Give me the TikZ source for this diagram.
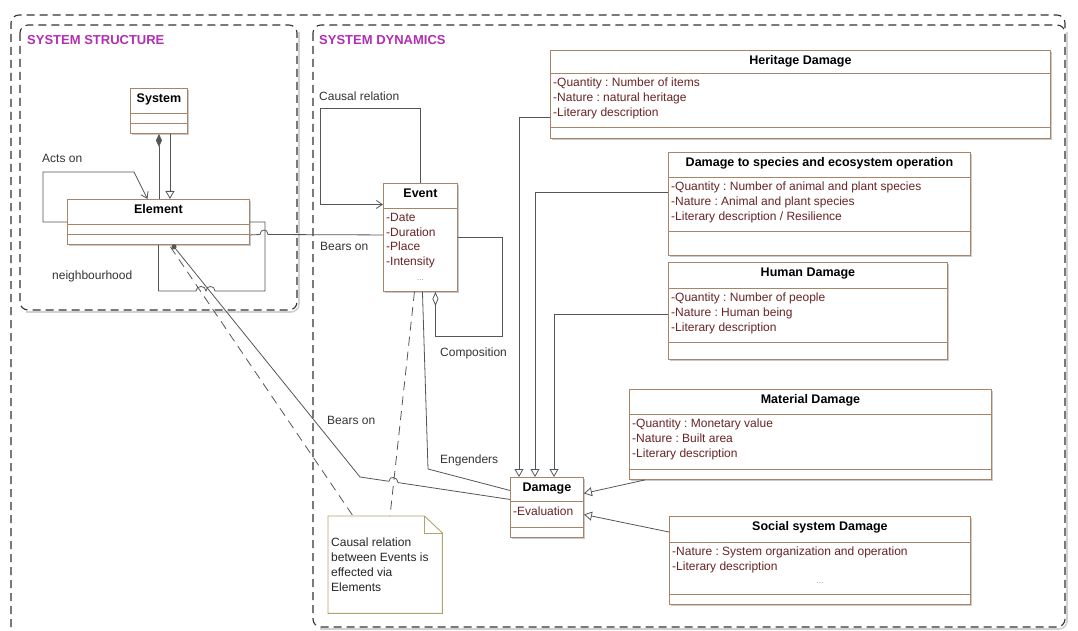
\documentclass[tikz,border=0pt]{standalone}
\usepackage{fontspec}
\setmainfont{Liberation Sans}
\usetikzlibrary{arrows.meta,calc,shadows}
\frenchspacing

\definecolor{clsbrown}{RGB}{168,132,104}
\definecolor{attrred}{RGB}{105,35,35}
\definecolor{notekhaki}{RGB}{176,164,112}
\definecolor{pkgmagenta}{RGB}{178,46,178}
\definecolor{linegray}{RGB}{85,85,85}

\tikzset{
 clsbox/.style={draw=clsbrown,fill=white,line width=0.9pt,anchor=north west,inner sep=0pt,
   drop shadow={shadow xshift=2pt,shadow yshift=-2pt,fill=black!35,opacity=0.6}},
 clsline/.style={draw=clsbrown,line width=0.9pt},
 clstitle/.style={anchor=base,inner sep=0pt,font=\fontsize{12.5}{15}\selectfont\bfseries},
 clsattr/.style={anchor=north west,inner sep=0pt,align=left,text=attrred,
   font=\fontsize{12}{14.6}\selectfont,execute at begin node={\rule{0pt}{9.5pt}}}
}

% class box: name, north west corner, width, height, header height, last part height, title, attributes
\newcommand{\umlclass}[8]{%
 \node[clsbox,minimum width=#3pt,minimum height=#4pt] (#1) at (#2) {};
 \node[clstitle] (#1-t) at ($(#1.north)+(0,14.5)$) {#7};
 \draw[clsline] ($(#1.north west)+(0,#5)$) -- ($(#1.north east)+(0,#5)$);
 \draw[clsline] ($(#1.south west)+(0,-#6)$) -- ($(#1.south east)+(0,-#6)$);
 \node[clsattr] (#1-a) at ($(#1.north west)+(3,#5+5)$) {#8};
}

\begin{document}
\begin{tikzpicture}[x=1pt,y=-1pt,
 assoc/.style={draw=linegray,line width=0.8pt},
 gen/.style={assoc,-{Triangle[open,length=8pt,width=9pt,fill=white]}},
 barb/.style={assoc,-{Straight Barb[length=6pt,width=8pt]}},
 notelink/.style={draw=linegray,line width=0.8pt,dash pattern=on 9pt off 6pt},
 frame/.style={draw=black!80,line width=1.1pt,dash pattern=on 8pt off 5pt,rounded corners=8pt},
 frameshadow/.style={draw=black!18,line width=1.6pt,rounded corners=8pt},
 pkgtitle/.style={anchor=base west,inner sep=0pt,text=pkgmagenta,font=\fontsize{13}{15}\selectfont\bfseries},
 lab/.style={anchor=base west,inner sep=0pt,text=black!80,font=\fontsize{12}{14}\selectfont},
 dots/.style={inner sep=0pt,text=black!45,font=\fontsize{8}{9}\selectfont},
 notebox/.style={anchor=north west,inner sep=0pt},
 notebrd/.style={draw=notekhaki,line width=0.9pt},
 notetxt/.style={anchor=north west,inner sep=0pt,align=left,text=black!85,
   font=\fontsize{12}{14.7}\selectfont,execute at begin node={\rule{0pt}{9.5pt}}}]
\useasboundingbox (0,0) rectangle (1078,631);

% packages
\draw[frameshadow] (299,32) -- (299,312) -- (26,312);
\draw[frameshadow] (1067,32) -- (1067,629) -- (320,629);
\draw[frame] (11,640) -- (11,15) -- (1065,15) -- (1065,32);
\draw[frame] (20,25) rectangle (297,310);
\draw[frame] (313,25) rectangle (1065,627);
\node[pkgtitle] (ss-t) at (27,45) {SYSTEM STRUCTURE};
\node[pkgtitle] (sd-t) at (319,45) {SYSTEM DYNAMICS};

% classes
\umlclass{sys}{130,88}{57}{45}{25}{10}{System}{}
\umlclass{elem}{67,199}{182}{45}{25}{10}{Element}{}
\umlclass{evt}{383,183}{74}{108}{25}{0}{Event}{-Date\\-Duration\\-Place\\-Intensity}
\umlclass{dmg}{510,477}{73}{60}{24}{10}{Damage}{-Evaluation}
\umlclass{her}{550,50}{500}{88}{23}{11}{Heritage Damage}{-Quantity : Number of items\\-Nature : natural heritage\\-Literary description}
\umlclass{spc}{668,152}{302}{103}{25}{24}{Damage to species and ecosystem operation}{-Quantity : Number of animal and plant species\\-Nature : Animal and plant species\\-Literary description / Resilience}
\umlclass{hum}{668,262}{279}{97}{26}{17}{Human Damage}{-Quantity : Number of people\\-Nature : Human being\\-Literary description}
\umlclass{mat}{629,389}{362}{90}{25}{10}{Material Damage}{-Quantity : Monetary value\\-Nature : Built area\\-Literary description}
\umlclass{soc}{669,516}{301}{88}{26}{10}{Social system Damage}{-Nature : System organization and operation\\-Literary description}
\node[dots] (evt-d) at ($(evt.north)+(0,97)$) {...};
\node[dots] (soc-d) at ($(soc.north)+(0,67)$) {...};

% note
\node[notebox,minimum width=114pt,minimum height=97pt] (note) at (328,516) {};
\draw[notebrd,fill=white] (note.north west) -- ($(note.north east)+(-18,0)$) -- ($(note.north east)+(0,17)$) -- (note.south east) -- (note.south west) -- cycle;
\draw[notebrd] ($(note.north east)+(-18,0)$) |- ($(note.north east)+(0,17)$);
\node[notetxt] (note-t) at ($(note.north west)+(3,22)$) {Causal relation\\between Events is\\effected via\\Elements};

% structure
\coordinate (sys-g) at ($(sys.south)+(11,0)$);
\draw[assoc,{Diamond[length=13pt,width=6pt]}-] (sys.south) -- (sys.south |- elem.north);
\draw[gen] (sys-g) -- (sys-g |- elem.north);
\draw[barb] (elem.west) -- ++(-24,0) |- (134,172) -- ($(elem.north)+(-11,0)$);
\draw[assoc] (elem.east) -- ++(15,0) |- (215,291) .. controls (215,285) and (206,285) .. (206,291)
  .. controls (206,285) and (196,285) .. (196,291) -| (elem.south);
\draw[assoc] ($(elem.east)+(0,13)$) -- (260,234.5) .. controls (260,228.5) and (268,228.5) .. (268,234.5) -- ($(evt.west)+(0,-2.5)$);

% dynamics
\draw[barb] (evt.north) |- (320,108) |- ($(evt.west)+(0,-33)$);
\draw[assoc,{Diamond[open,length=14pt,width=6pt,fill=white]}-] ($(evt.south)+(15,0)$) |- (502,336) |- (evt.east);
\draw[assoc] ($(evt.south)+(2,0)$) -- (428,469) -- ($(dmg.west)+(0,-17)$);
\draw[assoc,{Circle[length=5pt]}-] ($(elem.south)+(14,0)$) -- (360,477) -- (389,481.3)
  .. controls (389,475.3) and (398,476.6) .. (398,482.6) -- ($(dmg.west)+(0,-8)$);
\draw[notelink] ($(elem.south)+(12,2)$) -- ($(note.north west)+(25,0)$);
\draw[notelink] ($(evt.south)+(-6,0)$) -- ($(note.north west)+(62,0)$);

% kinds of damage
\draw[gen] ($(her.north west)+(0,67)$) -| ($(dmg.north west)+(9,0)$);
\draw[gen] ($(spc.north west)+(0,40)$) -| ($(dmg.north west)+(25,0)$);
\draw[gen] ($(hum.north west)+(0,52)$) -| ($(dmg.north west)+(44,0)$);
\draw[gen] ($(mat.south west)+(16,0)$) -- ($(dmg.east)+(0,-14)$);
\draw[gen] ($(soc.north west)+(0,16)$) -- ($(dmg.east)+(0,7)$);

% labels
\node[lab] (l-acts) at (42,163) {Acts on};
\node[lab] (l-nbh) at (52,279) {neighbourhood};
\node[lab] (l-causal) at (319,100.5) {Causal relation};
\node[lab] (l-bears1) at (320,250) {Bears on};
\node[lab] (l-comp) at (440,356.5) {Composition};
\node[lab] (l-bears2) at (327,424) {Bears on};
\node[lab] (l-eng) at (440,463) {Engenders};
\end{tikzpicture}
\end{document}
